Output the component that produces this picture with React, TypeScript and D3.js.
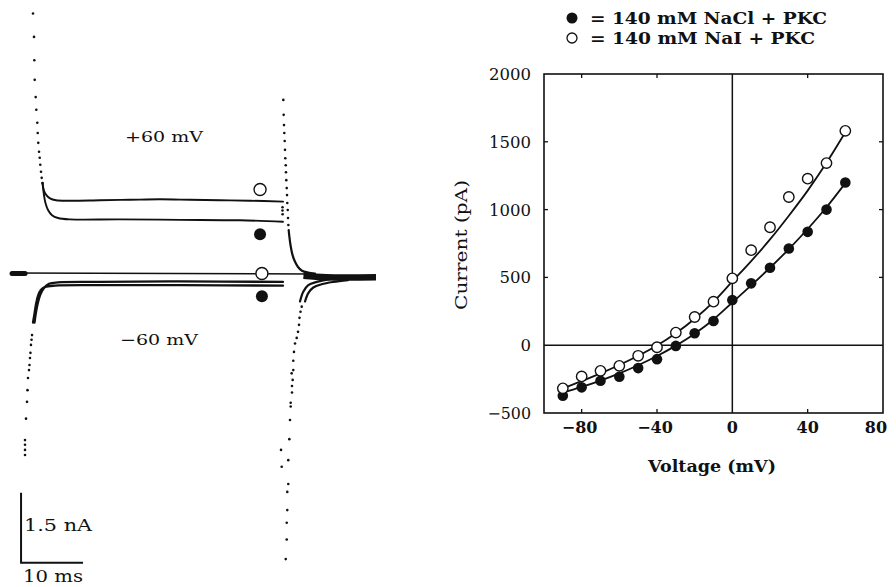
import React from 'react';
import * as d3 from 'd3';

const W = 896;
const H = 587;
const SERIF = "'DejaVu Serif', 'Liberation Serif', serif";

// ---------- I-V panel data ----------
const voltages = [-90, -80, -70, -60, -50, -40, -30, -20, -10, 0, 10, 20, 30, 40, 50, 60];
const naclPKC = [-372, -311, -262, -233, -169, -103, -5, 88, 179, 333, 456, 571, 713, 836, 1000, 1200];
const naiPKC = [-318, -230, -189, -152, -78, -15, 93, 208, 321, 493, 701, 870, 1093, 1228, 1343, 1581];
const naclFit = [-350, -308, -261, -208, -148, -80, -3, 85, 190, 315, 441, 571, 709, 857, 1017, 1195];
const naiFit = [-318, -265, -208, -146, -78, -2, 88, 195, 320, 470, 620, 780, 955, 1140, 1345, 1570];
const xTickValues = [-80, -40, 0, 40, 80];
const yTickValues = [-500, 0, 500, 1000, 1500, 2000];
const legendLabels = ['= 140 mM NaCl + PKC', '= 140 mM NaI + PKC'];

// ---------- current traces (time ms, current nA) ----------
const onsetPosDotsT = [-0.32, -0.16, -0.11, -0.05, 0.11, 0.21, 0.37, 0.44, 0.53, 0.65, 0.76, 0.85, 0.97, 1.08, 1.21];
const onsetPosDotsI = [5.57, 5.07, 4.57, 4.15, 3.78, 3.51, 3.23, 3.01, 2.8, 2.61, 2.48, 2.33, 2.18, 2.05, 1.94];

const naiPos60T = [1.21, 1.45, 1.77, 2.42, 3.39, 5.65, 10.48, 15.32, 20.16, 25, 29.84, 34.68, 40];
const naiPos60I = [1.94, 1.77, 1.69, 1.61, 1.57, 1.56, 1.57, 1.58, 1.59, 1.58, 1.57, 1.56, 1.54];
const naclPos60T = [1.21, 1.45, 1.69, 2.1, 2.74, 3.71, 5.65, 13.71, 23.39, 33.06, 40];
const naclPos60I = [1.94, 1.68, 1.51, 1.36, 1.25, 1.19, 1.16, 1.16, 1.15, 1.14, 1.11];

const onsetNegDotsT = [-1.61, -1.61, -1.61, -1.61, -1.45, -1.29, -1.21, -1.13, -0.97, -0.89, -0.81, -0.73, -0.65, -0.56, -0.48];
const onsetNegDotsI = [-3.89, -3.78, -3.67, -3.57, -3.11, -2.75, -2.5, -2.24, -2.07, -1.96, -1.81, -1.7, -1.53, -1.42, -1.32];

const naclNeg60T = [-0.32, -0.08, 0.16, 0.48, 0.97, 1.61, 3.23, 10.48, 23.39, 40];
const naclNeg60I = [-1.05, -0.86, -0.66, -0.48, -0.35, -0.29, -0.26, -0.25, -0.25, -0.26];
const naiNeg60T = [-0.08, 0.16, 0.48, 0.89, 1.45, 2.26, 3.71, 10.48, 23.39, 40];
const naiNeg60I = [-1.05, -0.83, -0.62, -0.44, -0.31, -0.22, -0.19, -0.18, -0.17, -0.18];

const baselineT = [-3.55, 44.4];
const baselineI = [0.01, -0.01];
const holdBlobT = [-3.7, -1.6];
const holdBlobI = [0.0, 0.0];

const tailPosDotsT = [40.05, 40.11, 40.16, 40.21, 40.27, 40.32, 40.37, 40.44, 40.48, 40.53, 40.6, 40.65, 40.69, 40.76, 40.81, 40.86, 39.92, 39.92, 39.94];
const tailPosDotsI = [3.72, 3.4, 3.18, 3.01, 2.84, 2.65, 2.47, 2.32, 2.17, 2.0, 1.83, 1.68, 1.51, 1.36, 1.19, 1.04, 1.42, 1.35, 1.27];
const tailPosT = [40.92, 41.0, 41.21, 41.53, 41.94, 42.42, 43.06, 44.03, 45.16];
const tailPosI = [0.93, 0.82, 0.61, 0.4, 0.25, 0.14, 0.06, 0.02, 0.0];

const tailNegAT = [42.74, 43.27, 44.08, 45.44, 47.58, 50.0];
const tailNegAI = [-0.6, -0.39, -0.25, -0.18, -0.12, -0.1];
const tailNegBT = [43.55, 44.08, 44.89, 46.24, 48.11, 50.48];
const tailNegBI = [-0.6, -0.42, -0.3, -0.23, -0.18, -0.14];
const tailBlobT = [43.3, 47.0, 55.0];
const tailBlobI = [-0.05, -0.08, -0.08];

const tailNegDotsT = [43.02, 42.82, 42.66, 42.58, 42.42, 42.21, 41.94, 41.77, 41.66, 41.66, 41.4, 41.56, 41.45, 41.45, 41.24, 41.24, 41.13, 41.02, 39.68, 40.85, 39.79, 40.85, 40.69, 40.69, 40.6, 40.6, 40.44];
const tailNegDotsI = [-0.71, -0.82, -0.95, -1.1, -1.25, -1.38, -1.5, -1.68, -1.87, -2.07, -2.14, -2.28, -2.41, -2.55, -2.77, -2.85, -3.14, -3.55, -3.78, -4.0, -4.14, -4.51, -4.68, -5.07, -5.34, -5.7, -6.12];

// symbols placed on traces (t, I)
const markOpenT = [36.3, 36.6];
const markOpenI = [1.8, 0.0];
const markFilledT = [36.3, 36.6];
const markFilledI = [0.84, -0.49];

// scale bar: 10 ms x 1.5 nA
const scaleBarT = [-2.25, 7.75];
const scaleBarI = [-6.2, -4.7];

const pairs = (a: number[], b: number[]) => a.map((v, i) => [v, b[i]] as [number, number]);

export default function App() {
  // ---- left panel scales ----
  const xT = d3.scaleLinear().domain([-5, 60]).range([4, 407]);
  const yI = d3.scaleLinear().domain([-6, 6]).range([553.5, -6.5]);
  const tr = d3
    .line<[number, number]>()
    .x((d) => xT(d[0]))
    .y((d) => yI(d[1]))
    .curve(d3.curveCatmullRom.alpha(0.5));
  const trLin = d3
    .line<[number, number]>()
    .x((d) => xT(d[0]))
    .y((d) => yI(d[1]));

  // ---- right panel scales ----
  const xV = d3.scaleLinear().domain([-100, 80]).range([544, 883]);
  const yC = d3.scaleLinear().domain([-500, 2000]).range([413, 74]);
  const fit = d3
    .line<[number, number]>()
    .x((d) => xV(d[0]))
    .y((d) => yC(d[1]))
    .curve(d3.curveMonotoneX);

  const dots = (T: number[], I: number[], r = 1.3) =>
    T.map((t, i) => <circle key={i} cx={xT(t)} cy={yI(I[i])} r={r} fill="#111" />);

  const left = xV.range()[0];
  const right = xV.range()[1];
  const top = yC.range()[1];
  const bottom = yC.range()[0];

  const sbX0 = xT(scaleBarT[0]);
  const sbX1 = xT(scaleBarT[1]);
  const sbY0 = yI(scaleBarI[0]);
  const sbY1 = yI(scaleBarI[1]);

  const fmt = (v: number) => (v < 0 ? '−' + Math.abs(v) : String(v));

  return (
    <svg
      width={W}
      height={H}
      viewBox={`0 0 ${W} ${H}`}
      style={{ position: 'absolute', left: 0, top: 0, background: '#fff' }}
    >
      <rect x={0} y={0} width={W} height={H} fill="#fff" />

      {/* ================= LEFT: current traces ================= */}
      <g fill="none" stroke="#111" strokeLinecap="round">
        <path d={trLin(pairs(baselineT, baselineI)) || ''} strokeWidth={1.6} />
        <path d={trLin(pairs(holdBlobT, holdBlobI)) || ''} strokeWidth={5} />
        <path d={tr(pairs(naiPos60T, naiPos60I)) || ''} strokeWidth={1.9} />
        <path d={tr(pairs(naclPos60T, naclPos60I)) || ''} strokeWidth={1.9} />
        <path d={tr(pairs(naclNeg60T, naclNeg60I)) || ''} strokeWidth={2.3} />
        <path d={tr(pairs(naiNeg60T, naiNeg60I)) || ''} strokeWidth={2.3} />
        <path d={tr(pairs(tailPosT, tailPosI)) || ''} strokeWidth={2.2} />
        <path d={tr(pairs(tailNegAT, tailNegAI)) || ''} strokeWidth={2.2} />
        <path d={tr(pairs(tailNegBT, tailNegBI)) || ''} strokeWidth={2.2} />
        <path d={tr(pairs(tailBlobT, tailBlobI)) || ''} strokeWidth={6.5} strokeLinecap="butt" />
      </g>
      <g>
        {dots(onsetPosDotsT, onsetPosDotsI)}
        {dots(onsetNegDotsT, onsetNegDotsI)}
        {dots(tailPosDotsT, tailPosDotsI)}
        {dots(tailNegDotsT, tailNegDotsI)}
      </g>
      {markOpenT.map((t, i) => (
        <circle key={'mo' + i} cx={xT(t)} cy={yI(markOpenI[i])} r={6} fill="#fff" stroke="#111" strokeWidth={1.4} />
      ))}
      {markFilledT.map((t, i) => (
        <circle key={'mf' + i} cx={xT(t)} cy={yI(markFilledI[i])} r={6} fill="#111" />
      ))}
      <text x={125} y={142} fontFamily={SERIF} fontSize={15} textLength={78} lengthAdjust="spacingAndGlyphs" fill="#111">
        +60 mV
      </text>
      <text x={120} y={345} fontFamily={SERIF} fontSize={15} textLength={78} lengthAdjust="spacingAndGlyphs" fill="#111">
        −60 mV
      </text>
      {/* scale bar */}
      <path d={`M${sbX0},${sbY1} L${sbX0},${sbY0} L${sbX1},${sbY0}`} stroke="#111" strokeWidth={2} fill="none" />
      <text x={24} y={531} fontFamily={SERIF} fontSize={16} textLength={68} lengthAdjust="spacingAndGlyphs" fill="#111">
        1.5 nA
      </text>
      <text x={23} y={582} fontFamily={SERIF} fontSize={16} textLength={60} lengthAdjust="spacingAndGlyphs" fill="#111">
        10 ms
      </text>

      {/* ================= RIGHT: I-V plot ================= */}
      <g stroke="#111" fill="none">
        <rect x={left} y={top} width={right - left} height={bottom - top} strokeWidth={1.6} />
        <line x1={left} x2={right} y1={yC(0)} y2={yC(0)} strokeWidth={1.5} />
        <line x1={xV(0)} x2={xV(0)} y1={top} y2={bottom} strokeWidth={1.5} />
        {xTickValues
          .filter((v) => v !== 0 && v !== 80)
          .map((v) => (
            <g key={'xt' + v}>
              <line x1={xV(v)} x2={xV(v)} y1={top} y2={top + 4} strokeWidth={1.3} />
              <line x1={xV(v)} x2={xV(v)} y1={bottom} y2={bottom - 4} strokeWidth={1.3} />
            </g>
          ))}
        {yTickValues
          .filter((v) => v !== -500 && v !== 2000 && v !== 0)
          .map((v) => (
            <g key={'yt' + v}>
              <line x1={left} x2={left + 4} y1={yC(v)} y2={yC(v)} strokeWidth={1.3} />
              <line x1={right} x2={right - 4} y1={yC(v)} y2={yC(v)} strokeWidth={1.3} />
            </g>
          ))}
      </g>

      {/* fitted curves */}
      <path d={fit(pairs(voltages, naclFit)) || ''} fill="none" stroke="#111" strokeWidth={1.8} />
      <path d={fit(pairs(voltages, naiFit)) || ''} fill="none" stroke="#111" strokeWidth={1.8} />

      {/* data points */}
      {voltages.map((v, i) => (
        <circle key={'f' + v} cx={xV(v)} cy={yC(naclPKC[i])} r={5.3} fill="#111" />
      ))}
      {voltages.map((v, i) => (
        <circle key={'o' + v} cx={xV(v)} cy={yC(naiPKC[i])} r={5.2} fill="#fff" stroke="#111" strokeWidth={1.4} />
      ))}

      {/* tick labels */}
      {yTickValues.map((v) => (
        <text
          key={'yl' + v}
          x={531}
          y={yC(v) + 6}
          textAnchor="end"
          fontFamily={SERIF}
          fontSize={16}
          textLength={String(Math.abs(v)).length * 10.5 + (v < 0 ? 12 : 0)}
          lengthAdjust="spacingAndGlyphs"
          fill="#111"
        >
          {fmt(v)}
        </text>
      ))}
      {xTickValues.map((v) => (
        <text
          key={'xl' + v}
          x={xV(v) - (v === 80 ? 7 : v < 0 ? 2 : 0)}
          y={433}
          textAnchor="middle"
          fontFamily={SERIF}
          fontSize={16}
          fontWeight="bold"
          fill="#111"
        >
          {fmt(v)}
        </text>
      ))}
      <text x={648} y={471.5} fontFamily={SERIF} fontSize={16} fontWeight="bold" textLength={128} lengthAdjust="spacingAndGlyphs" fill="#111">
        Voltage (mV)
      </text>
      <text
        transform={`translate(466.5,310) rotate(-90)`}
        fontFamily={SERIF}
        fontSize={17}
        textLength={130}
        lengthAdjust="spacingAndGlyphs"
        fill="#111"
      >
        Current (pA)
      </text>

      {/* legend */}
      <circle cx={572} cy={18} r={5.5} fill="#111" />
      <text x={590} y={24} fontFamily={SERIF} fontSize={17} fontWeight="bold" textLength={237} lengthAdjust="spacingAndGlyphs" fill="#111">
        {legendLabels[0]}
      </text>
      <circle cx={572} cy={38} r={5} fill="#fff" stroke="#111" strokeWidth={1.3} />
      <text x={590} y={43.5} fontFamily={SERIF} fontSize={17} fontWeight="bold" textLength={225} lengthAdjust="spacingAndGlyphs" fill="#111">
        {legendLabels[1]}
      </text>
    </svg>
  );
}
